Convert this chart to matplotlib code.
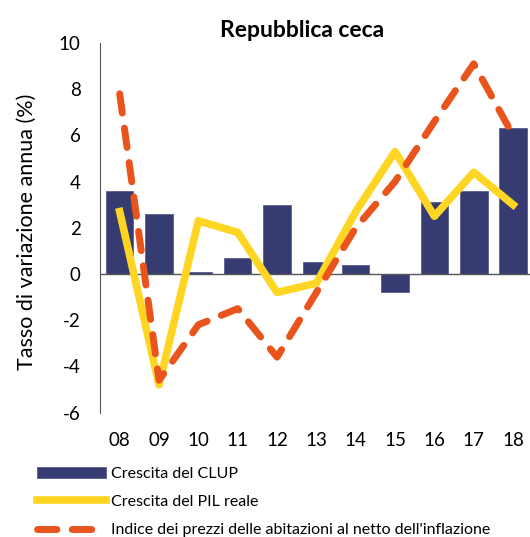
import numpy as np
import matplotlib
matplotlib.use("Agg")
import matplotlib.pyplot as plt

plt.rcParams['font.family'] = ['Lato', 'DejaVu Sans']
plt.rcParams['axes.unicode_minus'] = False

years = ["08", "09", "10", "11", "12", "13", "14", "15", "16", "17", "18"]
clup = [3.6, 2.6, 0.1, 0.7, 3.0, 0.5, 0.4, -0.8, 3.1, 3.6, 6.3]
pil = [2.7, -4.8, 2.3, 1.8, -0.8, -0.4, 2.7, 5.3, 2.5, 4.4, 3.0]
prezzi = [7.8, -4.6, -2.2, -1.5, -3.6, -0.8, 2.0, 4.0, 6.6, 9.1, 6.0]

x = np.arange(len(years))

fig = plt.figure(figsize=(5.30, 5.37), dpi=100)
ax = fig.add_axes([0.1887, 0.2317, 0.8113, 0.6883])

bars = ax.bar(x, clup, width=0.7, color="#363B72", edgecolor="#5a5f8e", linewidth=0.6,
              label="Crescita del CLUP", zorder=2)
l_pil, = ax.plot(x, pil, color="#FFD524", lw=5.5, solid_joinstyle="round",
                 label="Crescita del PIL reale", zorder=3)
l_prz, = ax.plot(x, prezzi, color="#E8541C", lw=5, dashes=(2.8, 2.2), dash_capstyle="round",
                 label="Indice dei prezzi delle abitazioni al netto dell'inflazione", zorder=4)
ax.axhline(0, color="#555555", lw=1, zorder=2.5)

ax.set_ylim(-6, 10)
ax.set_xlim(-0.5, 10.43)
ax.set_yticks(range(-6, 11, 2))
ax.set_xticks(x)
ax.set_xticklabels(years)
ax.tick_params(axis="both", length=0, labelsize=13.5)
ax.tick_params(axis="x", pad=14)
ax.tick_params(axis="y", pad=14)
for s in ["top", "right", "bottom"]:
    ax.spines[s].set_visible(False)
ax.spines["left"].set_color("#555555")

ax.set_ylabel("Tasso di variazione annua (%)", fontsize=15.5)
ax.yaxis.set_label_coords(-0.148, 0.49)
ax.set_title("Repubblica ceca", fontsize=16.5, fontweight="bold", pad=4, x=0.47)

fig.legend(handles=[bars, l_pil, l_prz], loc="upper left",
           bbox_to_anchor=(0.058, 0.143), frameon=False,
           fontsize=11.5, handlelength=4.3, handletextpad=0.35,
           labelspacing=0.88, borderaxespad=0)

fig.savefig("out.png", dpi=100)
